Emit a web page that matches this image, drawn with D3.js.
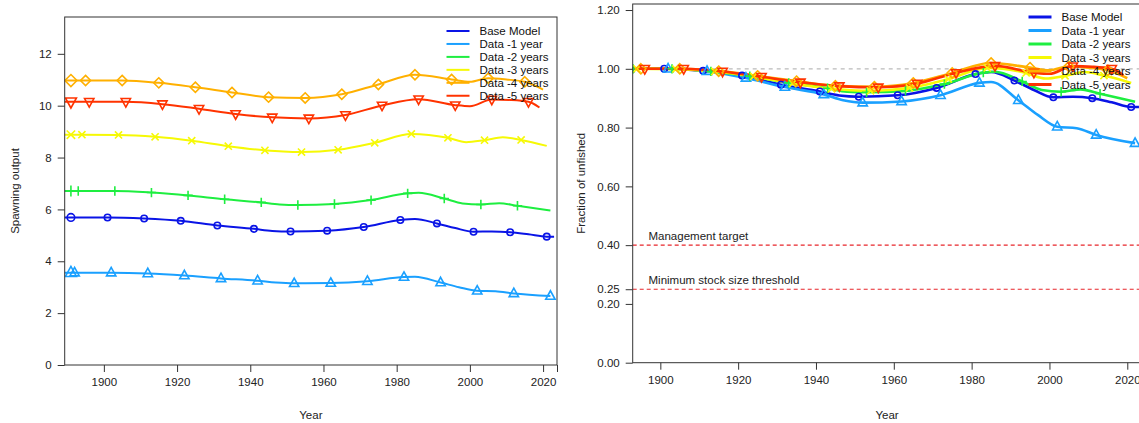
<!DOCTYPE html>
<html><head><meta charset="utf-8">
<script src="https://cdn.jsdelivr.net/npm/d3@7/dist/d3.min.js"></script>
<style>
body{margin:0;background:#fff;}
svg{display:block;font-family:"Liberation Sans",Arial,sans-serif;}
</style></head>
<body><svg id="c" width="1139" height="423"></svg>
<script>
// ---------- data ----------
const seriesNames = ["Base Model","Data -1 year","Data -2 years","Data -3 years","Data -4 years","Data -5 years"];
const seriesColors = ["#0A14E6","#1AA0FF","#1EEE40","#F6F905","#FFB000","#FF3300"];
const markerShapes = ["circle","triUp","plus","cross","diamond","triDown"];

const baseYears  = [1889,1891,1901,1911,1921,1931,1941,1946,1951,1961,1971,1981,1985,1991,1996,2001,2006,2011,2016,2021,2023];
const baseSO     = [5.69,5.69,5.69,5.65,5.56,5.38,5.25,5.17,5.15,5.18,5.32,5.59,5.63,5.46,5.28,5.14,5.15,5.12,5.04,4.95,4.95];
const baseFrac   = [1,1,1,0.993,0.977,0.946,0.923,0.909,0.905,0.910,0.935,0.982,0.989,0.960,0.928,0.903,0.905,0.900,0.886,0.870,0.870];
const baseMarks  = [1891,1901,1911,1921,1931,1941,1951,1961,1971,1981,1991,2001,2011,2021];

const m1Years = [1889,1891,1892,1902,1912,1922,1932,1942,1947,1952,1962,1972,1982,1985,1992,1997,2002,2007,2012,2022];
const m1SO    = [3.56,3.56,3.56,3.56,3.53,3.45,3.34,3.25,3.18,3.15,3.16,3.23,3.39,3.40,3.18,3.00,2.86,2.84,2.76,2.66];
const m1Frac  = [1,1,1,1,0.992,0.969,0.938,0.913,0.893,0.885,0.889,0.910,0.952,0.955,0.893,0.843,0.803,0.798,0.775,0.747];
const m1Marks = [1891,1892,1902,1912,1922,1932,1942,1952,1962,1972,1982,1992,2002,2012,2022];

const m2Years = [1889,1891,1893,1903,1913,1923,1933,1943,1948,1953,1963,1973,1983,1986,1993,1998,2003,2008,2013,2022];
const m2SO    = [6.71,6.71,6.71,6.71,6.65,6.54,6.39,6.27,6.19,6.17,6.21,6.36,6.62,6.64,6.42,6.23,6.19,6.24,6.14,5.96];
const m2Frac  = [1,1,1,1,0.991,0.975,0.952,0.934,0.922,0.920,0.925,0.948,0.987,0.990,0.957,0.928,0.922,0.930,0.915,0.888];
const m2Marks = [1891,1893,1903,1913,1923,1933,1943,1953,1963,1973,1983,1993,2003,2013];

const m3Years = [1889,1891,1894,1904,1914,1924,1934,1944,1949,1954,1964,1974,1984,1994,1999,2004,2009,2014,2021];
const m3SO    = [8.88,8.88,8.88,8.87,8.80,8.65,8.44,8.28,8.23,8.21,8.30,8.57,8.91,8.76,8.59,8.67,8.78,8.68,8.45];
const m3Frac  = [1,1,1,0.999,0.991,0.974,0.950,0.932,0.927,0.925,0.935,0.965,1.003,0.986,0.967,0.976,0.989,0.977,0.952];
const m3Marks = [1891,1894,1904,1914,1924,1934,1944,1954,1964,1974,1984,1994,2004,2014];

const m4Years = [1889,1891,1895,1905,1915,1925,1935,1945,1955,1965,1975,1985,1995,2000,2005,2010,2015,2020];
const m4SO    = [10.97,10.97,10.97,10.97,10.88,10.71,10.51,10.33,10.30,10.44,10.82,11.19,11.01,10.92,11.06,11.01,10.92,10.62];
const m4Frac  = [1,1,1,1,0.992,0.976,0.958,0.942,0.939,0.952,0.986,1.020,1.004,0.995,1.008,1.004,0.995,0.968];
const m4Marks = [1891,1895,1905,1915,1925,1935,1945,1955,1965,1975,1985,1995,2005,2015];

const m5Years = [1889,1891,1896,1906,1916,1926,1936,1946,1956,1966,1976,1986,1996,2000,2006,2011,2016,2019];
const m5SO    = [10.15,10.15,10.15,10.15,10.06,9.88,9.68,9.55,9.51,9.64,10.01,10.25,10.02,9.98,10.24,10.22,10.15,9.93];
const m5Frac  = [1,1,1,1,0.991,0.973,0.954,0.941,0.937,0.950,0.986,1.010,0.987,0.983,1.009,1.007,1.000,0.978];
const m5Marks = [1891,1896,1906,1916,1926,1936,1946,1956,1966,1976,1986,1996,2006,2016];

const leftYTicks  = [0,2,4,6,8,10,12];
const rightYTicks = [0,0.2,0.25,0.4,0.6,0.8,1.0,1.2];
const xTickYears  = [1900,1920,1940,1960,1980,2000,2020];
const refLevels   = [0.4,0.25];
const refLabels   = ["Management target","Minimum stock size threshold"];
const unfishedLevel = 1.0;

const allYears = [baseYears,m1Years,m2Years,m3Years,m4Years,m5Years];
const allSO    = [baseSO,m1SO,m2SO,m3SO,m4SO,m5SO];
const allFrac  = [baseFrac,m1Frac,m2Frac,m3Frac,m4Frac,m5Frac];
const allMarks = [baseMarks,m1Marks,m2Marks,m3Marks,m4Marks,m5Marks];

// ---------- drawing ----------
const svg = d3.select("#c");
const FS = 11.5;
const txtCol = "#222";

function markerPath(shape, s){
  switch(shape){
    case "triUp": return `M0,${-s*0.62}L${s*0.55},${s*0.38}L${-s*0.55},${s*0.38}Z`;
    case "triDown": return `M0,${s*0.62}L${s*0.55},${-s*0.38}L${-s*0.55},${-s*0.38}Z`;
    case "plus": return `M${-s*0.55},0L${s*0.55},0M0,${-s*0.55}L0,${s*0.55}`;
    case "cross": return `M${-s*0.42},${-s*0.42}L${s*0.42},${s*0.42}M${-s*0.42},${s*0.42}L${s*0.42},${-s*0.42}`;
    case "diamond": return `M0,${-s*0.6}L${s*0.6},0L0,${s*0.6}L${-s*0.6},0Z`;
  }
}
function drawMarker(g, shape, x, y, col, s, sw){
  if(shape==="circle"){
    g.append("circle").attr("cx",x).attr("cy",y).attr("r",s*0.38)
      .attr("fill","none").attr("stroke",col).attr("stroke-width",sw);
  } else {
    g.append("path").attr("d",markerPath(shape,s)).attr("transform",`translate(${x},${y})`)
      .attr("fill","none").attr("stroke",col).attr("stroke-width",sw);
  }
}

function panel(opt){
  const {x0,x1,y0,y1,xdom,ydom,values,yTicks,yFmt,ylabel,ylabelX,lw,id,legendX,legendY,legendDy,legLw} = opt;
  const x = d3.scaleLinear().domain(xdom).range([x0,x1]);
  const y = d3.scaleLinear().domain(ydom).range([y1,y0]);
  const g = svg.append("g");
  g.append("clipPath").attr("id",id).append("rect").attr("x",x0).attr("y",y0).attr("width",x1-x0).attr("height",y1-y0);
  const plot = g.append("g").attr("clip-path",`url(#${id})`);
  if(opt.refs) opt.refs(plot,x,y);
  const line = d3.line().x(d=>x(d[0])).y(d=>y(d[1])).curve(d3.curveMonotoneX);
  for(let i=0;i<6;i++){
    const pts = allYears[i].map((yr,k)=>[yr,values[i][k]]);
    plot.append("path").attr("d",line(pts)).attr("fill","none")
      .attr("stroke",seriesColors[i]).attr("stroke-width",lw).attr("stroke-linejoin","round");
  }
  for(let i=0;i<6;i++){
    allMarks[i].forEach((yr,j)=>{
      const k = allYears[i].indexOf(yr);
      const v = values[i][k];
      const s = j===0 ? 10 : 8.5;
      drawMarker(plot, markerShapes[i], x(yr), y(v), seriesColors[i], s, 1.6);
    });
  }
  if(opt.refText) opt.refText(g,x,y);
  // box
  g.append("rect").attr("x",x0).attr("y",y0).attr("width",x1-x0).attr("height",y1-y0)
    .attr("fill","none").attr("stroke","#333").attr("stroke-width",1);
  // axes
  const ax = d3.axisBottom(x).tickValues(opt.xTicks).tickSize(7).tickPadding(6).tickFormat(d3.format("d"));
  const axg = g.append("g").attr("transform",`translate(0,${y1})`).call(ax);
  axg.select(".domain").remove();
  axg.selectAll(".tick text").filter(d=>!xTickYears.includes(d)).remove();
  const ay = d3.axisLeft(y).tickValues(yTicks).tickSize(7).tickPadding(6).tickFormat(yFmt);
  const ayg = g.append("g").attr("transform",`translate(${x0},0)`).call(ay);
  ayg.select(".domain").remove();
  [axg,ayg].forEach(a=>{
    a.selectAll("line").attr("stroke","#333");
    a.selectAll("text").attr("font-size",FS).attr("fill",txtCol).attr("font-family","Liberation Sans, Arial, sans-serif");
  });
  // titles
  g.append("text").attr("x",(x0+x1)/2).attr("y",419).attr("text-anchor","middle")
    .attr("font-size",FS).attr("fill",txtCol).text("Year");
  g.append("text").attr("transform",`translate(${ylabelX},${(y0+y1)/2}) rotate(-90)`)
    .attr("text-anchor","middle").attr("font-size",FS).attr("fill",txtCol).text(ylabel);
  // legend
  const lg = g.append("g");
  seriesNames.forEach((nm,i)=>{
    const yy = legendY + i*legendDy;
    lg.append("line").attr("x1",legendX).attr("x2",legendX+23).attr("y1",yy).attr("y2",yy)
      .attr("stroke",seriesColors[i]).attr("stroke-width",legLw);
    lg.append("text").attr("x",legendX+33).attr("y",yy+4).attr("font-size",FS).attr("fill","#111").text(nm);
  });
}

panel({
  id:"clipL", x0:64.7, x1:557, y0:17, y1:365, xdom:[1889.3,2023.8], ydom:[0,13.42],
  values:allSO, yTicks:leftYTicks, yFmt:d3.format("d"), ylabel:"Spawning output", ylabelX:19,
  lw:2, xTicks:xTickYears.concat([2023.8]), legendX:446.5, legendY:31, legendDy:12.95, legLw:2
});

panel({
  id:"clipR", x0:632.7, x1:1141.3, y0:4, y1:362.7, xdom:[1892.9,2023.6], ydom:[0,1.2205],
  values:allFrac, yTicks:rightYTicks, yFmt:d3.format(".2f"), ylabel:"Fraction of unfished", ylabelX:585,
  lw:2.6, xTicks:xTickYears, legendX:1028.5, legendY:17, legendDy:13.5, legLw:3,
  refs:(p,x,y)=>{
    p.append("line").attr("x1",x.range()[0]).attr("x2",x.range()[1]).attr("y1",y(unfishedLevel)).attr("y2",y(unfishedLevel))
      .attr("stroke","#bbb").attr("stroke-width",1.2).attr("stroke-dasharray","4,4");
    refLevels.forEach(v=>{
      p.append("line").attr("x1",x.range()[0]).attr("x2",x.range()[1]).attr("y1",y(v)).attr("y2",y(v))
        .attr("stroke","#E8262B").attr("stroke-width",1.1).attr("stroke-dasharray","4,3");
    });
  },
  refText:(g,x,y)=>{
    refLevels.forEach((v,i)=>{
      g.append("text").attr("x",648.5).attr("y",y(v)-5).attr("font-size",FS).attr("fill",txtCol).text(refLabels[i]);
    });
  }
});
</script></body></html>
